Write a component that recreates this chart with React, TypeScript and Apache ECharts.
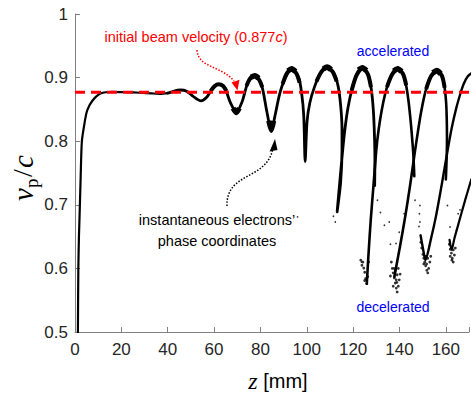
import React, { useEffect, useRef } from "react";
import * as echarts from "echarts";

type Pt = [number, number];

// Axis ticks
const zTicks = [0, 20, 40, 60, 80, 100, 120, 140, 160];
const vTicks = [0.5, 0.6, 0.7, 0.8, 0.9, 1];
const zEnd = 170;
const initialVelocity = 0.877;

// Injection: the beam climbs to its initial velocity and then drifts
const launchPath: Pt[] = [
  [1.25, 0.5], [1.44, 0.6], [1.7, 0.65], [2.0, 0.686], [2.45, 0.745], [2.97, 0.8],
  [4.1, 0.828], [5.0, 0.845], [6.2, 0.856], [7.6, 0.864], [9.1, 0.87], [11.0, 0.875],
  [13.3, 0.877], [16, 0.8775], [22, 0.877], [28, 0.8762], [33, 0.8752], [37, 0.8745],
  [40, 0.8755],
];

// Bunching: growing oscillations, then the first folded humps
const bunchingPath: Pt[] = [
  [40, 0.8755], [42.5, 0.8785], [45.5, 0.8805], [48.2, 0.8785], [51, 0.8705],
  [54.3, 0.8635], [56.8, 0.869], [59.4, 0.8835], [62.0, 0.8895], [64.6, 0.8835],
  [67.0, 0.861], [69.6, 0.845], [72.1, 0.862], [74.6, 0.892], [77.6, 0.903],
  [80.4, 0.89], [82.7, 0.848], [84.7, 0.816], [86.4, 0.842], [88.2, 0.873],
  [90.2, 0.895], [93.5, 0.914], [96.5, 0.9], [97.8, 0.875], [98.7, 0.84],
  [99.3, 0.768], [100.1, 0.83], [101.3, 0.86], [103.3, 0.885], [105.8, 0.906],
  [108.8, 0.9165], [111.7, 0.907], [113.5, 0.887], [114.6, 0.857], [115.2, 0.82],
  [115.2, 0.786], [114.6, 0.735], [113.1, 0.689], [114.3, 0.738], [115.5, 0.786],
  [116.5, 0.82], [117.8, 0.853], [119.6, 0.883], [121.6, 0.905], [124.0, 0.9155],
  [126.3, 0.906], [127.8, 0.883], [128.7, 0.85], [129.2, 0.81], [129.4, 0.77],
  [129.3, 0.73],
];

// Later humps, each rising out of a decelerated cluster
const hump4: Pt[] = [
  [125.9, 0.576], [126.6, 0.62], [127.6, 0.676], [128.8, 0.731], [130.0, 0.786],
  [131.0, 0.818], [132.3, 0.848], [133.8, 0.874], [135.5, 0.895], [137.3, 0.909],
  [139.2, 0.914], [141.3, 0.907], [142.8, 0.889], [143.8, 0.866], [144.6, 0.84],
  [145.3, 0.812], [146.0, 0.778], [146.4, 0.745],
];
const hump5: Pt[] = [
  [137.8, 0.587], [140.3, 0.636], [142.6, 0.684], [144.6, 0.731], [146.6, 0.782],
  [148.0, 0.816], [149.3, 0.845], [150.8, 0.872], [152.5, 0.894], [154.2, 0.906],
  [156.1, 0.911], [158.1, 0.904], [159.4, 0.886], [160.1, 0.862], [160.4, 0.835],
  [160.5, 0.805], [160.4, 0.778], [160.0, 0.74],
];
const hump6: Pt[] = [
  [149.1, 0.652], [150.2, 0.63], [151.2, 0.613], [153.5, 0.645], [155.8, 0.683],
  [158.3, 0.733], [160.6, 0.782], [162.5, 0.82], [164.5, 0.852], [166.3, 0.875],
  [167.7, 0.89], [169.5, 0.902], [171.5, 0.908],
];
const hump7: Pt[] = [
  [161.6, 0.645], [162.5, 0.629], [163.7, 0.647], [165.3, 0.668], [168.3, 0.707],
  [171, 0.74],
];

// Where the electrons pile up the band widens: upper part of each crest
const crestShoulders: Pt[][] = [
  [[58.6, 0.879], [60.2, 0.8865], [62.0, 0.8895], [63.8, 0.887], [65.3, 0.879]],
  [[74.0, 0.887], [75.6, 0.899], [77.6, 0.903], [79.4, 0.897], [80.8, 0.885]],
  [[89.6, 0.89], [91.3, 0.906], [93.5, 0.914], [95.6, 0.906], [96.9, 0.892]],
  [[104.2, 0.894], [106.3, 0.909], [108.8, 0.9165], [111.2, 0.909], [112.9, 0.894]],
  [[119.4, 0.88], [121.4, 0.903], [124.0, 0.9155], [126.4, 0.905], [127.7, 0.885]],
  [[134.6, 0.885], [136.7, 0.904], [139.2, 0.914], [141.5, 0.906], [142.9, 0.888]],
  [[151.5, 0.882], [153.6, 0.902], [156.1, 0.911], [158.3, 0.903], [159.5, 0.884]],
];
// ...and the very top of each crest
const crestTops: Pt[][] = [
  [[77.6 - 1.6, 0.9005], [77.6, 0.903], [77.6 + 1.6, 0.899]],
  [[91.9, 0.9105], [93.5, 0.914], [95.1, 0.9095]],
  [[107.1, 0.9135], [108.8, 0.9165], [110.5, 0.9125]],
  [[122.3, 0.912], [124.0, 0.9155], [125.7, 0.911]],
  [[137.5, 0.9105], [139.2, 0.914], [140.9, 0.9095]],
  [[154.4, 0.9075], [156.1, 0.911], [157.8, 0.906]],
];
const troughs: Pt[][] = [
  [[68.2, 0.852], [69.6, 0.845], [70.9, 0.852]],
  [[83.6, 0.832], [84.7, 0.817], [85.7, 0.832]],
];

// Decelerated clusters at the bottom of the folds
const clusterDots: Pt[] = [
  [124.2, 0.61], [124.6, 0.6005], [125.0, 0.594], [125.4, 0.584], [125.9, 0.576],
  [126.3, 0.587], [125.0, 0.581], [123.3, 0.613], [123.8, 0.605], [126.7, 0.61],
  [136.5, 0.61], [136.9, 0.6], [137.3, 0.593], [137.8, 0.585], [138.2, 0.577],
  [138.6, 0.569], [139.0, 0.563], [139.5, 0.572], [139.9, 0.582], [139.0, 0.59],
  [138.2, 0.597], [136.1, 0.588], [137.3, 0.572], [138.6, 0.582], [140.3, 0.591],
  [139.5, 0.6], [138.9, 0.578], [137.7, 0.6],
  [149.6, 0.632], [150.1, 0.622], [150.5, 0.616], [150.9, 0.61], [151.3, 0.604],
  [151.8, 0.597], [152.2, 0.593], [152.6, 0.6], [153.1, 0.61], [152.2, 0.616],
  [150.5, 0.607], [151.3, 0.619], [153.5, 0.619], [149.2, 0.641], [151.7, 0.607],
  [161.5, 0.638], [161.9, 0.63], [162.4, 0.624], [162.8, 0.616], [163.2, 0.61],
  [163.7, 0.621], [164.1, 0.632], [163.2, 0.629], [161.9, 0.619], [162.6, 0.613],
];

// Sparse electrons on the fast descending edges
const strayDots: Pt[] = [
  [96.0, 0.681], [112.3, 0.673], [111.5, 0.682], [123.6, 0.61],
  [130.5, 0.707], [131.8, 0.688], [133.5, 0.668], [135.6, 0.673], [136.1, 0.638],
  [138.5, 0.639], [142.0, 0.686], [139.9, 0.657],
  [146.7, 0.707], [148.8, 0.699], [148.6, 0.686], [148.8, 0.673], [148.4, 0.666],
  [160.7, 0.699], [161.8, 0.665], [164.6, 0.66], [166.1, 0.692], [165.3, 0.686],
];

const SANS = '"Liberation Sans", Arial, sans-serif';
const SERIF = '"Liberation Serif", "Times New Roman", serif';

const centered = {
  align: "center",
  verticalAlign: "middle",
  textAlign: "center",
  textVerticalAlign: "middle",
};
const leftMiddle = {
  align: "left",
  verticalAlign: "middle",
  textAlign: "left",
  textVerticalAlign: "middle",
};

export default function App() {
  const ref = useRef<HTMLDivElement>(null);

  useEffect(() => {
    if (!ref.current) return;
    const chart = echarts.init(ref.current, undefined, { renderer: "svg" });

    const trace = (data: Pt[], width: number, cap = "round") => ({
      type: "line",
      data,
      showSymbol: false,
      smooth: 0.25,
      lineStyle: { color: "#000", width, cap, join: "round" },
      z: 2,
    });

    chart.setOption({
      animation: false,
      backgroundColor: "#fff",
      grid: { left: 75, top: 14, width: 401, height: 318, containLabel: false },
      xAxis: {
        type: "value",
        min: zTicks[0],
        max: zEnd,
        interval: zTicks[1] - zTicks[0],
        axisLine: { lineStyle: { color: "#808080", width: 1 } },
        axisTick: { inside: true, length: 5, lineStyle: { color: "#808080" } },
        splitLine: { show: false },
        axisLabel: {
          color: "#262626",
          fontFamily: SANS,
          fontSize: 17,
          margin: 9,
          formatter: (v: number) => (zTicks.includes(v) ? String(v) : ""),
        },
      },
      yAxis: {
        type: "value",
        min: vTicks[0],
        max: vTicks[vTicks.length - 1],
        interval: 0.1,
        axisLine: { show: true, lineStyle: { color: "#808080", width: 1 } },
        axisTick: { show: true, inside: true, length: 5, lineStyle: { color: "#808080" } },
        splitLine: { show: false },
        axisLabel: {
          color: "#262626",
          fontFamily: SANS,
          fontSize: 17,
          margin: 7,
          formatter: (v: number) => String(+v.toFixed(1)),
        },
      },
      series: [
        trace(launchPath, 2.2),
        trace(bunchingPath, 2.8),
        trace(hump4, 2.6),
        trace(hump5, 2.6),
        trace(hump6, 2.4),
        trace(hump7, 2.2),
        ...crestShoulders.map((c) => trace(c, 4.0, "butt")),
        ...crestTops.map((c) => trace(c, 5.6, "butt")),
        ...troughs.map((c) => trace(c, 5.2, "butt")),
        {
          type: "scatter",
          data: clusterDots,
          symbolSize: 2.8,
          itemStyle: { color: "#000" },
          z: 2,
        },
        {
          type: "scatter",
          data: strayDots,
          symbolSize: 1.7,
          itemStyle: { color: "#000" },
          z: 2,
        },
        {
          type: "line",
          data: [
            [zTicks[0], initialVelocity],
            [zEnd, initialVelocity],
          ],
          showSymbol: false,
          lineStyle: { color: "#ff0000", width: 3, type: [10, 6] },
          z: 5,
        },
      ],
      graphic: [
        {
          type: "text",
          x: 196,
          y: 37,
          style: {
            text: "{a|initial beam velocity (0.877}{b|c}{a|)}",
            ...centered,
            rich: {
              a: { fill: "#ff0000", fontFamily: SANS, fontSize: 14.5 },
              b: { fill: "#ff0000", font: `italic 14.5px ${SANS}`, fontFamily: SANS, fontSize: 14.5, fontStyle: "italic" },
            },
          },
        },
        {
          type: "text",
          x: 393,
          y: 51,
          style: { text: "accelerated", fill: "#0000ff", font: `14px ${SANS}`, ...centered },
        },
        {
          type: "text",
          x: 393,
          y: 307,
          style: { text: "decelerated", fill: "#0000ff", font: `14px ${SANS}`, ...centered },
        },
        {
          type: "text",
          x: 217,
          y: 230,
          style: {
            text: "instantaneous electrons\u2019\nphase coordinates",
            fill: "#000",
            font: `14.5px ${SANS}`,
            lineHeight: 21,
            ...centered,
          },
        },
        // red dotted pointer to the dashed reference line
        {
          type: "bezierCurve",
          shape: { x1: 197, y1: 50, cpx1: 198, cpy1: 68, cpx2: 222, cpy2: 66, x2: 234, y2: 81 },
          style: { stroke: "#ff0000", lineWidth: 1.5, lineDash: [1.5, 1.6], fill: null },
        },
        {
          type: "polygon",
          shape: { points: [[231.5, 82.5], [239.5, 79.8], [237.5, 90.5]] },
          style: { fill: "#ff0000" },
        },
        // black dotted pointer to the particle band
        {
          type: "bezierCurve",
          shape: { x1: 227, y1: 206, cpx1: 226, cpy1: 172, cpx2: 266, cpy2: 180, x2: 272.5, y2: 150 },
          style: { stroke: "#000", lineWidth: 1.5, lineDash: [1.5, 1.6], fill: null },
        },
        {
          type: "polygon",
          shape: { points: [[269.5, 151.5], [277.5, 150], [275, 139]] },
          style: { fill: "#000" },
        },
        // y-axis title  v_p / c
        {
          type: "group",
          x: 23,
          y: 201,
          rotation: Math.PI / 2,
          children: [
            { type: "text", x: 0, y: 0, style: { text: "v", font: `italic 29px ${SERIF}`, fill: "#000", ...leftMiddle } },
            { type: "text", x: 13, y: 8, style: { text: "p", font: `19px ${SERIF}`, fill: "#000", ...leftMiddle } },
            { type: "text", x: 24, y: -1, style: { text: "/", font: `28px ${SERIF}`, fill: "#000", ...leftMiddle } },
            { type: "text", x: 33, y: 0, style: { text: "c", font: `italic 29px ${SERIF}`, fill: "#000", ...leftMiddle } },
          ],
        },
        // x-axis title  z [mm]
        {
          type: "text",
          x: 278,
          y: 381,
          style: {
            text: "{i|z}{u| [mm]}",
            ...centered,
            rich: {
              i: { fill: "#000", font: `italic 24px ${SERIF}`, fontFamily: SERIF, fontStyle: "italic", fontSize: 24 },
              u: { fill: "#000", fontFamily: SANS, fontSize: 20 },
            },
          },
        },
      ],
    });

    return () => chart.dispose();
  }, []);

  return (
    <div
      ref={ref}
      style={{ position: "fixed", left: 0, top: 0, width: 472, height: 394, background: "#fff" }}
    />
  );
}
